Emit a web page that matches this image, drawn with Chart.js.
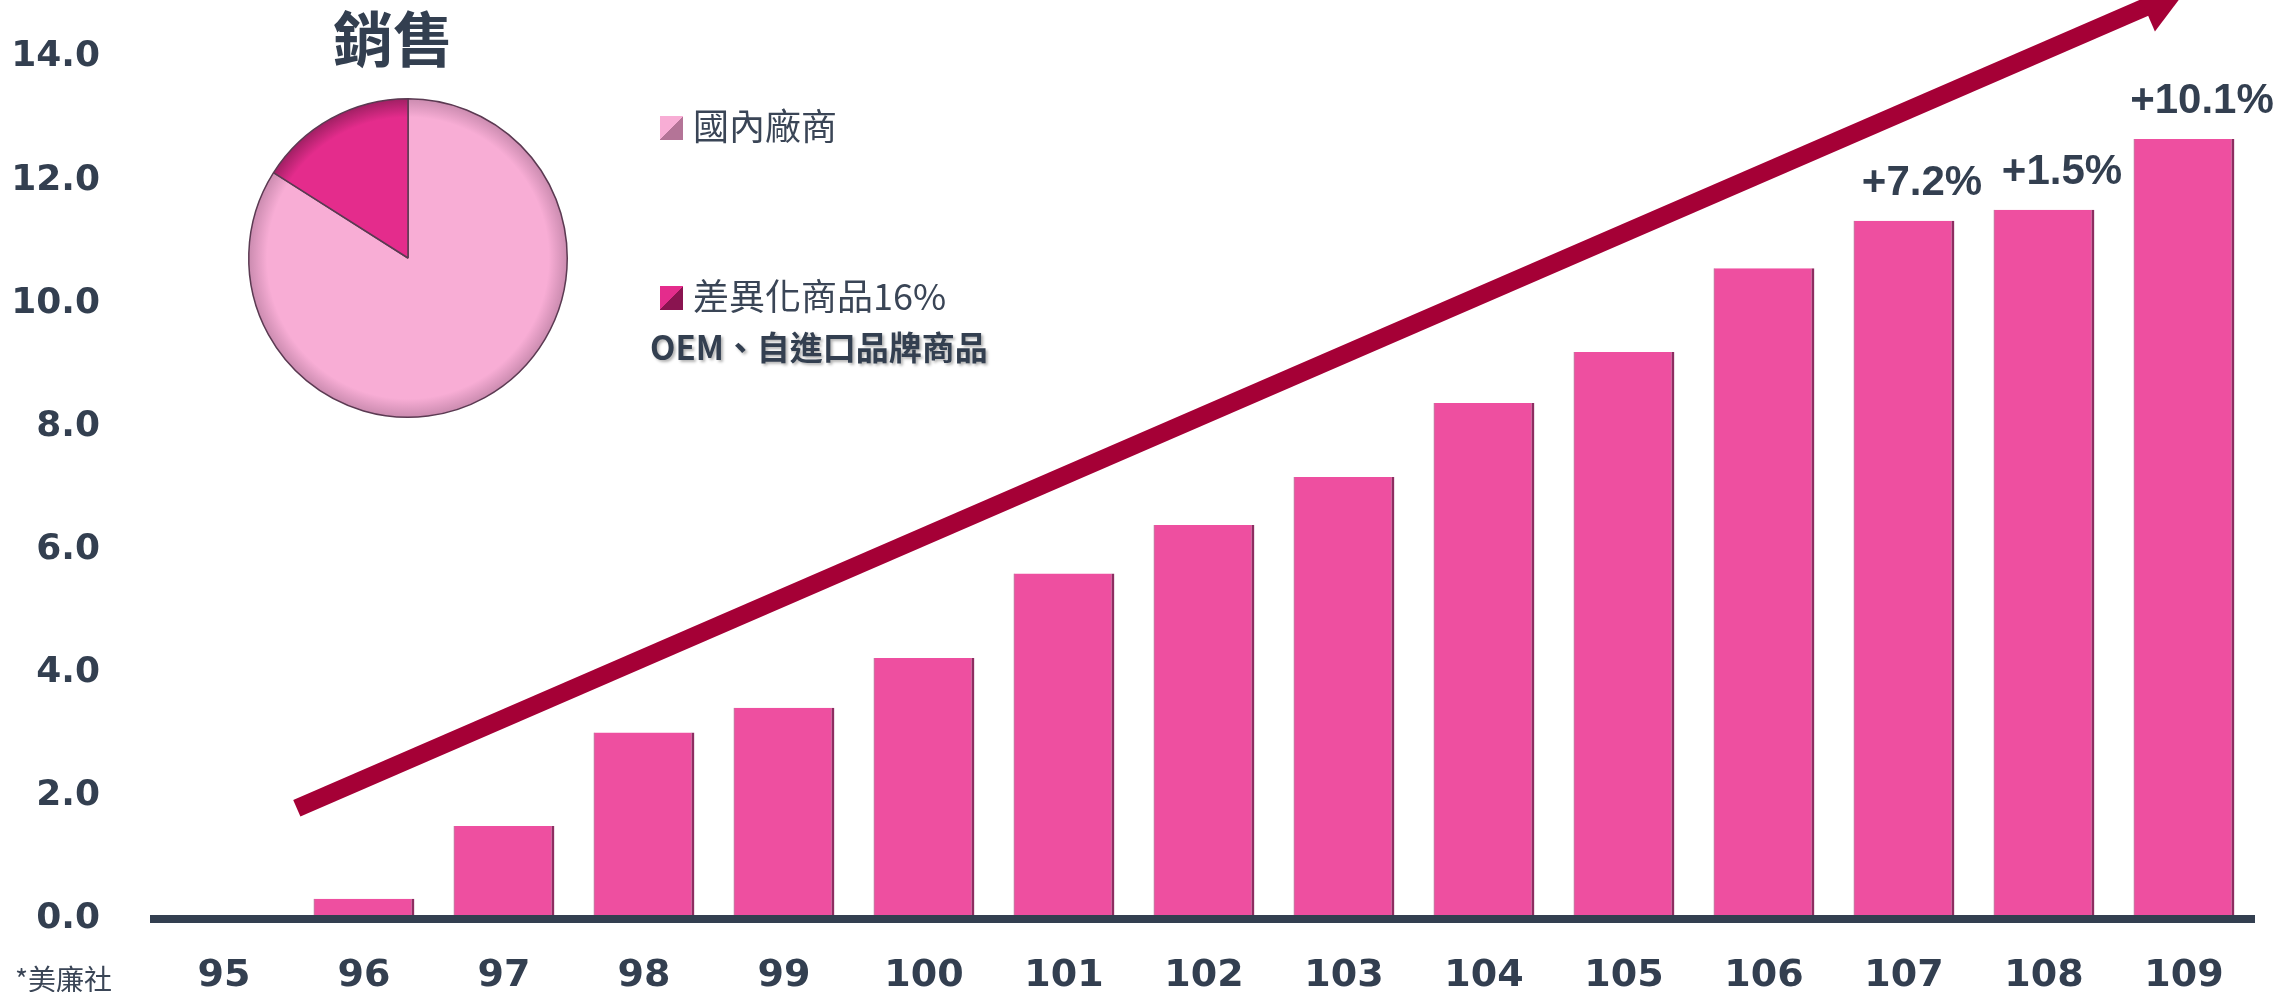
<!DOCTYPE html>
<html>
<head>
<meta charset="utf-8">
<script src="https://cdn.jsdelivr.net/npm/chart.js@4"></script>
<style>
  html, body { margin: 0; padding: 0; background: #fff; overflow: hidden; }
  #wrap { position: relative; width: 2288px; height: 992px; }
  #mainBox { position: absolute; left: 0; top: 0; width: 2288px; height: 992px; }
  #pieBox { position: absolute; left: 243px; top: 93px; width: 330px; height: 330px; }
  .txt { position: absolute; color: #333F50; white-space: nowrap; }
  #pieTitle { left: 333px; top: -8px; font: bold 60px "Noto Sans CJK TC", sans-serif; }
  #source { left: 15px; top: 958px; font: 28px "Noto Sans CJK TC", sans-serif; color: #3a4556; }
  .legItem { position: absolute; left: 660px; font: 36px "Noto Sans CJK TC", sans-serif; color: #3a4556; white-space: nowrap; }
  .legItem span.sq { display: inline-block; width: 23px; height: 24px; margin-right: 10px; vertical-align: middle; position: relative; top: -2px; }
  #legNote { left: 650px; top: 322px; font: bold 33px "Noto Sans CJK TC", sans-serif; text-shadow: 2px 2px 3px rgba(0,0,0,0.3); }
</style>
</head>
<body>
<div id="wrap">
  <div id="mainBox"><canvas id="barChart"></canvas></div>
  <div id="pieBox"><canvas id="pieChart"></canvas></div>
  <div class="txt" id="pieTitle">銷售</div>
  <div id="legend"></div>
  <div class="txt" id="legNote">OEM、自進口品牌商品</div>
  <div class="txt" id="source">*美廉社</div>
</div>
<script>
// Sales by year (ROC years)
const years = ['95', '96', '97', '98', '99', '100', '101', '102', '103', '104', '105', '106', '107', '108', '109'];
const sales = [null, 0.33, 1.51, 3.03, 3.43, 4.24, 5.61, 6.40, 7.18, 8.38, 9.21, 10.57, 11.34, 11.52, 12.67];
const growthLabels = ['', '', '', '', '', '', '', '', '', '', '', '', '+7.2%', '+1.5%', '+10.1%'];
const yTicks = [0, 2, 4, 6, 8, 10, 12, 14];

// trend arrow, in chart units: [category index, value]
const arrowFrom = [0.52, 1.80];
const arrowTo = [14.02, 15.1];

// pie: sales split
const pieLabels = ['國內廠商', '差異化商品16%'];
const pieValues = [84, 16];
const pieColors = ['#F8ADD5', '#E42C8C'];
const legendTops = [98, 268];

const textColor = '#333F50';

// Arrow and growth labels
const decoPlugin = {
    id: 'deco',
    afterDatasetsDraw(chart) {
        const ctx = chart.ctx;
        const xs = chart.scales.x, ys = chart.scales.y;
        const x1 = xs.getPixelForValue(arrowFrom[0]), y1 = ys.getPixelForValue(arrowFrom[1]);
        const x2 = xs.getPixelForValue(arrowTo[0]), y2 = ys.getPixelForValue(arrowTo[1]);
        const ang = Math.atan2(y2 - y1, x2 - x1);
        const headLen = 46, headHalf = 26;
        const bx = x2 - headLen * Math.cos(ang), by = y2 - headLen * Math.sin(ang);
        ctx.save();
        ctx.strokeStyle = '#A50036';
        ctx.lineWidth = 18;
        ctx.lineCap = 'butt';
        ctx.beginPath();
        ctx.moveTo(x1, y1);
        ctx.lineTo(bx + 4 * Math.cos(ang), by + 4 * Math.sin(ang));
        ctx.stroke();
        ctx.fillStyle = '#A50036';
        ctx.beginPath();
        ctx.moveTo(x2, y2);
        ctx.lineTo(bx - headHalf * Math.sin(ang), by + headHalf * Math.cos(ang));
        ctx.lineTo(bx + headHalf * Math.sin(ang), by - headHalf * Math.cos(ang));
        ctx.closePath();
        ctx.fill();

        // growth labels above last bars
        ctx.font = 'bold 42px "Liberation Sans", Arial, sans-serif';
        ctx.fillStyle = textColor;
        ctx.textAlign = 'center';
        ctx.textBaseline = 'middle';
        const meta = chart.getDatasetMeta(0);
        growthLabels.forEach((t, i) => {
            if (!t) return;
            const bar = meta.data[i];
            ctx.fillText(t, bar.x + 18, bar.y - 37);
        });
        ctx.restore();
    }
};

new Chart(document.getElementById('barChart'), {
    type: 'bar',
    data: {
        labels: years,
        datasets: [{
            data: sales,
            backgroundColor: '#EE4FA0',
            borderColor: '#8E2D62',
            borderWidth: { top: 0, right: 3, bottom: 0, left: 1 },
            borderSkipped: false,
            barPercentage: 0.72,
            categoryPercentage: 1.0
        }]
    },
    options: {
        responsive: true,
        maintainAspectRatio: false,
        animation: false,
        layout: { padding: { top: 57, right: 34, left: 0, bottom: 0 } },
        plugins: { legend: { display: false }, tooltip: { enabled: false } },
        scales: {
            x: {
                grid: { display: false },
                border: { display: true, color: '#333F50', width: 8, z: 1 },
                ticks: {
                    color: textColor,
                    font: { family: 'DejaVu Sans', weight: 'bold', size: 38 },
                    padding: 26,
                    autoSkip: false,
                    maxRotation: 0
                },
                afterFit(s) { s.height = 73; s.paddingLeft = 0; s.paddingRight = 0; }
            },
            y: {
                min: 0,
                max: 14,
                grid: { display: false },
                border: { display: false },
                afterBuildTicks(s) { s.ticks = yTicks.map(v => ({ value: v })); },
                ticks: {
                    color: textColor,
                    font: { family: 'DejaVu Sans', weight: 'bold', size: 36 },
                    padding: 46,
                    callback: v => Number(v).toFixed(1)
                },
                afterFit(s) { s.width = 154; s.paddingTop = 0; s.paddingBottom = 0; }
            }
        }
    },
    plugins: [decoPlugin]
});

// pie with a darker rim
function pieFill(ctx) {
    const base = pieColors[ctx.dataIndex];
    const area = ctx.chart.chartArea;
    if (!area) return base;
    const cx = (area.left + area.right) / 2, cy = (area.top + area.bottom) / 2;
    const r = Math.min(area.right - area.left, area.bottom - area.top) / 2;
    const g = ctx.chart.ctx.createRadialGradient(cx, cy, 0, cx, cy, r);
    g.addColorStop(0, base);
    g.addColorStop(0.88, base);
    g.addColorStop(1, ctx.dataIndex === 0 ? '#C98AAE' : '#9E1F62');
    return g;
}

new Chart(document.getElementById('pieChart'), {
    type: 'pie',
    data: {
        labels: pieLabels,
        datasets: [{
            data: pieValues,
            backgroundColor: pieFill,
            borderColor: '#5B3A52',
            borderWidth: 1.5
        }]
    },
    options: {
        responsive: true,
        maintainAspectRatio: false,
        animation: false,
        layout: { padding: 5 },
        plugins: { legend: { display: false }, tooltip: { enabled: false } }
    }
});

// legend built from the pie arrays
const legend = document.getElementById('legend');
pieLabels.forEach((lab, i) => {
    const d = document.createElement('div');
    d.className = 'legItem';
    d.style.top = legendTops[i] + 'px';
    const sq = document.createElement('span');
    sq.className = 'sq';
    sq.style.background = 'linear-gradient(135deg, ' + pieColors[i] + ' 50%, ' + (i === 0 ? '#B47497' : '#8A1450') + ' 50%)';
    d.appendChild(sq);
    d.appendChild(document.createTextNode(lab));
    legend.appendChild(d);
});
</script>
</body>
</html>
